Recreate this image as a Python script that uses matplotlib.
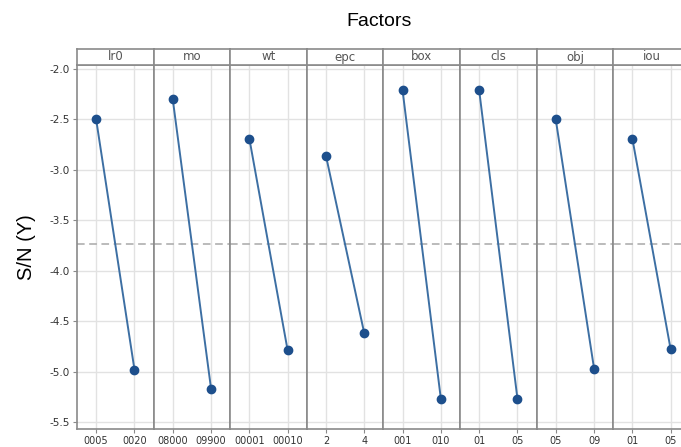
import numpy as np
import matplotlib.pyplot as plt

# main effects plot for S/N ratios
factors = ['lr0', 'mo', 'wt', 'epc', 'box', 'cls', 'obj', 'iou']
levels = [['0005', '0020'], ['08000', '09900'], ['00001', '00010'], ['2', '4'],
          ['001', '010'], ['01', '05'], ['05', '09'], ['01', '05']]
sn_low = [-2.50, -2.30, -2.69, -2.86, -2.21, -2.21, -2.50, -2.69]
sn_high = [-4.98, -5.17, -4.79, -4.62, -5.27, -5.27, -4.97, -4.78]
sn_mean = -3.74
yticks = [-2.0, -2.5, -3.0, -3.5, -4.0, -4.5, -5.0, -5.5]

W, H = 681, 447
fig = plt.figure(figsize=(W / 100, H / 100), dpi=100)

frame_col = '#8a8a8a'
grid_col = '#e2e2e2'
line_col = '#3d6fa3'
dot_col = '#1d4f8c'

left, pw = 77, 76.6
top_plot, bottom_plot = 65, 429
head_top = 49

for i, f in enumerate(factors):
    x0 = left + i * pw
    ax = fig.add_axes([x0 / W, 1 - bottom_plot / H, pw / W, (bottom_plot - top_plot) / H])
    ax.plot([0, 1], [sn_low[i], sn_high[i]], color=line_col, lw=1.4, zorder=3)
    ax.plot([0, 1], [sn_low[i], sn_high[i]], 'o', color=dot_col, ms=6, zorder=4)
    ax.axhline(sn_mean, color='#a8a8a8', ls=(0, (5, 3)), lw=1.1, zorder=2)
    ax.set_xlim(-0.5, 1.5)
    ax.set_ylim(-5.57, -1.96)
    ax.set_xticks([0, 1])
    ax.set_xticklabels(levels[i], fontsize=7, color='#333333')
    ax.set_yticks(yticks)
    ax.grid(True, color=grid_col, lw=1.0, zorder=0)
    ax.tick_params(axis='x', length=3, width=0.8, color=frame_col, pad=2)
    ax.tick_params(axis='y', length=3, width=0.8, color=frame_col, pad=2)
    if i == 0:
        ax.set_yticklabels([f'{v:.1f}' for v in yticks], fontsize=7.5, color='#333333')
        ax.set_ylabel('S/N (Y)', fontsize=14.5, labelpad=10, family='Liberation Sans')
    else:
        ax.tick_params(axis='y', left=False, labelleft=False)
    for s in ax.spines.values():
        s.set_color(frame_col)
        s.set_linewidth(1.2)

    # header strip with factor name
    hx = fig.add_axes([x0 / W, 1 - top_plot / H, pw / W, (top_plot - head_top) / H])
    hx.set_xticks([])
    hx.set_yticks([])
    for s in hx.spines.values():
        s.set_color(frame_col)
        s.set_linewidth(1.2)
    hx.text(0.5, 0.5, f, ha='center', va='center', fontsize=8.5, color='#555555',
            transform=hx.transAxes)

fig.text(379 / W, 1 - 21 / H, 'Factors', ha='center', va='center', fontsize=14,
         family='Liberation Sans')

fig.savefig('out.png', dpi=100)
